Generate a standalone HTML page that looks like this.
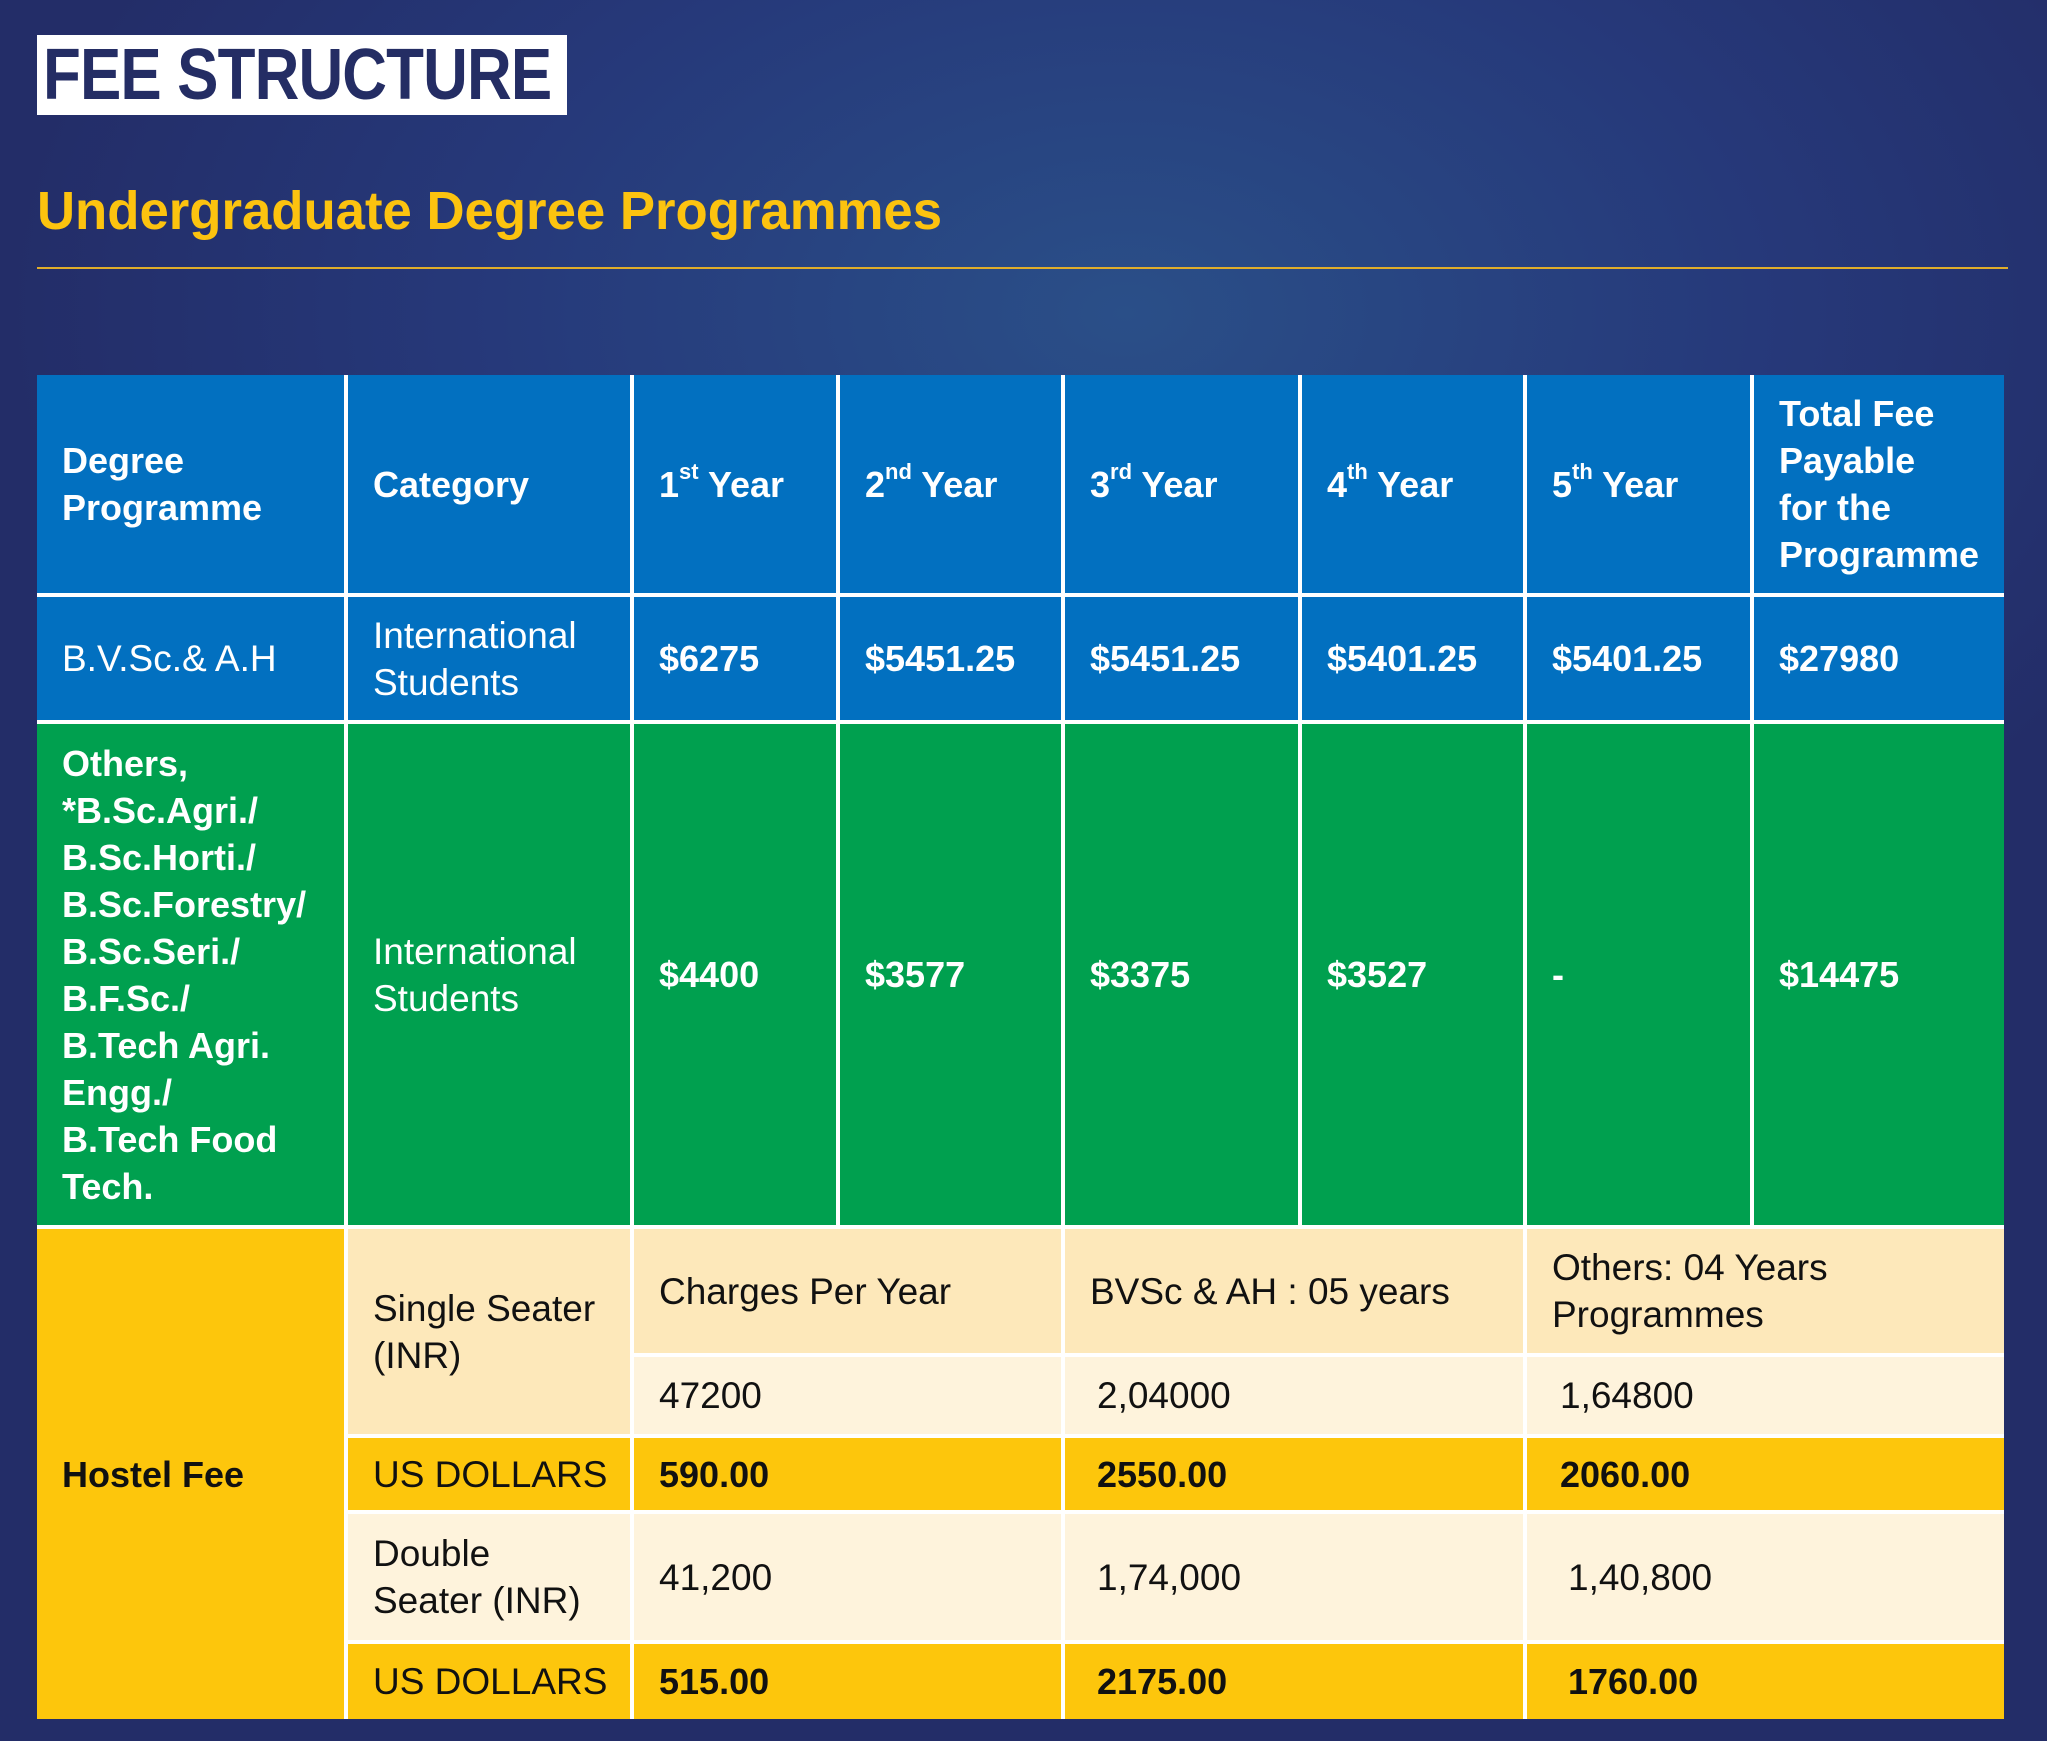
<!DOCTYPE html>
<html><head><meta charset="utf-8"><style>
*{margin:0;padding:0;box-sizing:border-box}
body{width:2047px;height:1741px;overflow:hidden;position:relative;font-family:"Liberation Sans",sans-serif;
background:radial-gradient(ellipse 1400px 900px at 55% 18%,#2a4f88 0%,#26397a 45%,#232d68 80%);}
.title{position:absolute;left:37px;top:35px;width:530px;height:80px;background:#fff;}
.title span{position:absolute;left:6px;top:4px;font-weight:bold;font-size:72px;color:#242d64;white-space:nowrap;transform:scaleX(0.86);transform-origin:left top;letter-spacing:-1px;line-height:72px}
.sub{position:absolute;left:37px;top:180px;font-weight:bold;font-size:54px;color:#fcc30f;white-space:nowrap;transform:scaleX(0.976);transform-origin:left top;line-height:62px}
.line{position:absolute;left:37px;top:267px;width:1971px;height:2px;background:#e0ad2a}
.tbl{position:absolute;left:37px;top:375px;width:1967px;height:1344px;background:#fff}
.c{position:absolute;display:flex;align-items:center;padding-left:25px;font-size:37px;line-height:47px;color:#fff}
.b{font-weight:bold;font-size:36px}
.bl{background:#0270c0}.gr{background:#00a04f}.ye{background:#fdc60c;color:#111}.cr{background:#fde8ba;color:#111}.lc{background:#fef3dc;color:#111}
sup{font-size:22px;vertical-align:top;position:relative;top:-4px;line-height:30px}
</style></head><body>
<div class="title"><span>FEE STRUCTURE</span></div>
<div class="sub">Undergraduate Degree Programmes</div>
<div class="line"></div>
<div class="tbl"></div>
<div class="c bl b" style="left:37px;top:375px;width:307px;height:218px">Degree<br>Programme</div>
<div class="c bl b" style="left:348px;top:375px;width:282px;height:218px">Category</div>
<div class="c bl b" style="left:634px;top:375px;width:202px;height:218px"><span>1<sup>st</sup> Year</span></div>
<div class="c bl b" style="left:840px;top:375px;width:221px;height:218px"><span>2<sup>nd</sup> Year</span></div>
<div class="c bl b" style="left:1065px;top:375px;width:233px;height:218px"><span>3<sup>rd</sup> Year</span></div>
<div class="c bl b" style="left:1302px;top:375px;width:221px;height:218px"><span>4<sup>th</sup> Year</span></div>
<div class="c bl b" style="left:1527px;top:375px;width:223px;height:218px"><span>5<sup>th</sup> Year</span></div>
<div class="c bl b" style="left:1754px;top:375px;width:250px;height:218px">Total Fee<br>Payable<br>for the<br>Programme</div>
<div class="c bl" style="left:37px;top:597px;width:307px;height:123px">B.V.Sc.&amp; A.H</div>
<div class="c bl" style="left:348px;top:597px;width:282px;height:123px">International<br>Students</div>
<div class="c bl b" style="left:634px;top:597px;width:202px;height:123px">$6275</div>
<div class="c bl b" style="left:840px;top:597px;width:221px;height:123px">$5451.25</div>
<div class="c bl b" style="left:1065px;top:597px;width:233px;height:123px">$5451.25</div>
<div class="c bl b" style="left:1302px;top:597px;width:221px;height:123px">$5401.25</div>
<div class="c bl b" style="left:1527px;top:597px;width:223px;height:123px">$5401.25</div>
<div class="c bl b" style="left:1754px;top:597px;width:250px;height:123px">$27980</div>
<div class="c gr b" style="left:37px;top:724px;width:307px;height:501px">Others,<br>*B.Sc.Agri./<br>B.Sc.Horti./<br>B.Sc.Forestry/<br>B.Sc.Seri./<br>B.F.Sc./<br>B.Tech Agri.<br>Engg./<br>B.Tech Food<br>Tech.</div>
<div class="c gr" style="left:348px;top:724px;width:282px;height:501px">International<br>Students</div>
<div class="c gr b" style="left:634px;top:724px;width:202px;height:501px">$4400</div>
<div class="c gr b" style="left:840px;top:724px;width:221px;height:501px">$3577</div>
<div class="c gr b" style="left:1065px;top:724px;width:233px;height:501px">$3375</div>
<div class="c gr b" style="left:1302px;top:724px;width:221px;height:501px">$3527</div>
<div class="c gr b" style="left:1527px;top:724px;width:223px;height:501px">-</div>
<div class="c gr b" style="left:1754px;top:724px;width:250px;height:501px">$14475</div>
<div class="c ye b" style="left:37px;top:1229px;width:307px;height:490px">Hostel Fee</div>
<div class="c cr" style="left:348px;top:1229px;width:282px;height:205px">Single Seater<br>(INR)</div>
<div class="c cr" style="left:634px;top:1229px;width:427px;height:124px">Charges Per Year</div>
<div class="c cr" style="left:1065px;top:1229px;width:458px;height:124px">BVSc &amp; AH : 05 years</div>
<div class="c cr" style="left:1527px;top:1229px;width:477px;height:124px">Others: 04 Years<br>Programmes</div>
<div class="c lc" style="left:634px;top:1357px;width:427px;height:77px">47200</div>
<div class="c lc" style="left:1065px;top:1357px;width:458px;height:77px;padding-left:32px">2,04000</div>
<div class="c lc" style="left:1527px;top:1357px;width:477px;height:77px;padding-left:33px">1,64800</div>
<div class="c ye" style="left:348px;top:1438px;width:282px;height:72px">US DOLLARS</div>
<div class="c ye b" style="left:634px;top:1438px;width:427px;height:72px">590.00</div>
<div class="c ye b" style="left:1065px;top:1438px;width:458px;height:72px;padding-left:32px">2550.00</div>
<div class="c ye b" style="left:1527px;top:1438px;width:477px;height:72px;padding-left:33px">2060.00</div>
<div class="c lc" style="left:348px;top:1514px;width:282px;height:126px">Double<br>Seater (INR)</div>
<div class="c lc" style="left:634px;top:1514px;width:427px;height:126px">41,200</div>
<div class="c lc" style="left:1065px;top:1514px;width:458px;height:126px;padding-left:32px">1,74,000</div>
<div class="c lc" style="left:1527px;top:1514px;width:477px;height:126px;padding-left:41px">1,40,800</div>
<div class="c ye" style="left:348px;top:1644px;width:282px;height:75px">US DOLLARS</div>
<div class="c ye b" style="left:634px;top:1644px;width:427px;height:75px">515.00</div>
<div class="c ye b" style="left:1065px;top:1644px;width:458px;height:75px;padding-left:32px">2175.00</div>
<div class="c ye b" style="left:1527px;top:1644px;width:477px;height:75px;padding-left:41px">1760.00</div>
</body></html>
